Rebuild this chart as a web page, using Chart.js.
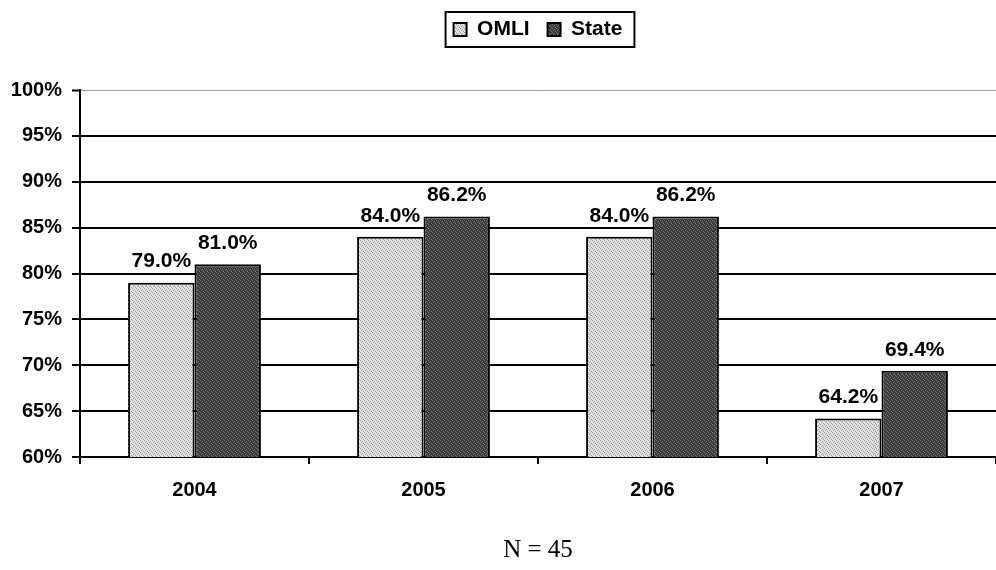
<!DOCTYPE html>
<html>
  <head>
    <meta charset='utf-8'>
    <title>OMLI vs State</title>
    <style>
      body { margin: 0; background: #fff; }
    </style>
    <script src='https://cdn.jsdelivr.net/npm/chart.js@4.4.0/dist/chart.umd.min.js'></script>
  </head>
  <body>
    <canvas id='chart' width='996' height='570'></canvas>

    <script>
    var years = ['2004', '2005', '2006', '2007'];
    var omli = [79.0, 84.0, 84.0, 64.2];
    var state = [81.0, 86.2, 86.2, 69.4];
    var seriesNames = ['OMLI', 'State'];
    var footNote = 'N = 45';

    // little stipple tiles to mimic the printed fill
    function stipple(base, dot) {
      var c = document.createElement('canvas');
      c.width = 4; c.height = 4;
      var g = c.getContext('2d');
      g.fillStyle = base;
      g.fillRect(0, 0, 4, 4);
      g.fillStyle = dot;
      [[0, 0], [2, 1], [1, 2], [3, 3]].forEach(function (p) { g.fillRect(p[0], p[1], 1, 1); });
      return g.createPattern(c, 'repeat');
    }

    var lightFill = stipple('#e2e2e2', '#9a9a9a');
    var darkFill = stipple('#383838', '#7a7a7a');

    var boldFont = { family: "'Liberation Sans', Arial, sans-serif", size: 20, weight: 'bold' };
    var legendFont = { family: "'Liberation Sans', Arial, sans-serif", size: 21, weight: 'bold' };

    var valueLabels = {
      id: 'valueLabels',
      afterDatasetsDraw: function (chart) {
        var ctx = chart.ctx;
        ctx.save();
        ctx.font = 'bold 21px "Liberation Sans", Arial, sans-serif';
        ctx.fillStyle = '#000';
        ctx.textAlign = 'center';
        ctx.textBaseline = 'middle';
        chart.data.datasets.forEach(function (ds, i) {
          chart.getDatasetMeta(i).data.forEach(function (bar, j) {
            ctx.fillText(ds.data[j].toFixed(1) + '%', bar.x, bar.y - 21);
          });
        });
        ctx.restore();
      }
    };

    var legendFrame = {
      id: 'legendFrame',
      beforeInit: function (chart) {
        var fit = chart.legend.fit;
        chart.legend.fit = function () {
          fit.call(this);
          this.height = 89;
        };
      },
      afterDraw: function (chart) {
        var boxes = chart.legend.legendHitBoxes;
        if (!boxes || !boxes.length) return;
        var last = boxes[boxes.length - 1];
        var ctx = chart.ctx;
        ctx.save();
        ctx.strokeStyle = '#000';
        ctx.lineWidth = 2;
        ctx.strokeRect(boxes[0].left - 8, 12, last.left + last.width + 12 - (boxes[0].left - 8), 35);
        ctx.restore();
      }
    };

    new Chart(document.getElementById('chart').getContext('2d'), {
      type: 'bar',
      data: {
        labels: years,
        datasets: [{
          label: seriesNames[0],
          data: omli,
          backgroundColor: lightFill,
          borderColor: '#000',
          borderWidth: 2
        }, {
          label: seriesNames[1],
          data: state,
          backgroundColor: darkFill,
          borderColor: '#000',
          borderWidth: 2
        }]
      },
      options: {
        responsive: false,
        animation: false,
        layout: { padding: { top: 1, left: 0, right: 0, bottom: 0 } },
        datasets: {
          bar: { categoryPercentage: 0.58, barPercentage: 1.0 }
        },
        plugins: {
          legend: {
            position: 'top',
            fullSize: false,
            labels: {
              color: '#000',
              font: legendFont,
              boxWidth: 13,
              boxHeight: 13,
              padding: 18
            }
          },
          tooltip: { enabled: false }
        },
        scales: {
          x: {
            afterFit: function (scale) { scale.height = 113; },
            grid: {
              drawOnChartArea: false,
              drawTicks: true,
              tickLength: 7,
              color: '#000',
              lineWidth: 2
            },
            border: { color: '#000', width: 2 },
            ticks: { color: '#000', font: boldFont, padding: 14 },
            title: {
              display: true,
              text: footNote,
              color: '#000',
              font: { family: "'Liberation Serif', 'Times New Roman', serif", size: 25 },
              padding: { top: 0, bottom: 5 }
            }
          },
          y: {
            min: 60,
            max: 100,
            afterFit: function (scale) { scale.width = 80; },
            grid: {
              color: function (c) { return c.tick && c.tick.value === 100 ? '#a0a0a0' : '#000'; },
              lineWidth: function (c) { return c.tick && c.tick.value === 100 ? 1 : 2; },
              tickColor: '#000',
              tickWidth: 2,
              tickLength: 8
            },
            border: { color: '#000', width: 2 },
            ticks: {
              stepSize: 5,
              color: '#000',
              font: boldFont,
              padding: 10,
              callback: function (v) { return v + '%'; }
            }
          }
        }
      },
      plugins: [valueLabels, legendFrame]
    });
    </script>
  </body>
</html>
